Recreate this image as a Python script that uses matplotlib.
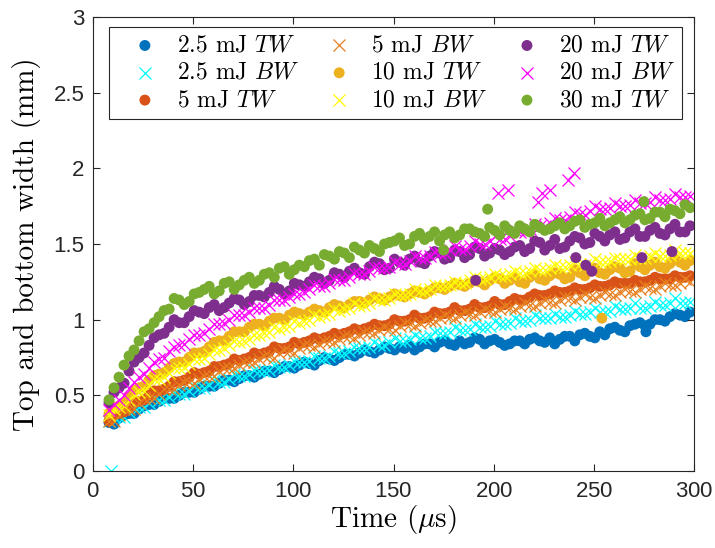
import numpy as np
import matplotlib
matplotlib.use("Agg")
import matplotlib.pyplot as plt

# two interleaved frame grids (us)
t = np.arange(8, 299, 5)
t2 = np.arange(10.5, 299, 5)

# widths (mm): first grid
w25_tw = [0.32, 0.35, 0.38, 0.41, 0.44, 0.46, 0.48, 0.50, 0.52, 0.54,
          0.56, 0.58, 0.60, 0.61, 0.63, 0.64, 0.66, 0.67, 0.69, 0.70,
          0.71, 0.73, 0.74, 0.75, 0.77, 0.78, 0.79, 0.80, 0.81, 0.82,
          0.83, 0.82, 0.84, 0.85, 0.84, 0.86, 0.85, 0.87, 0.86, 0.85,
          0.84, 0.86, 0.87, 0.86, 0.88, 0.87, 0.89, 0.90, 0.89, 0.92,
          0.94, 0.93, 0.96, 0.98, 0.97, 1.00, 1.02, 1.03, 1.05]
w25_bw = [0.33, 0.36, 0.39, 0.42, 0.45, 0.47, 0.49, 0.51, 0.53, 0.55,
          0.57, 0.59, 0.61, 0.63, 0.64, 0.66, 0.67, 0.69, 0.70, 0.72,
          0.73, 0.75, 0.76, 0.78, 0.79, 0.81, 0.82, 0.83, 0.85, 0.86,
          0.87, 0.88, 0.89, 0.91, 0.92, 0.93, 0.94, 0.95, 0.96, 0.97,
          0.98, 0.99, 1.00, 1.01, 1.01, 1.02, 1.03, 1.04, 1.05, 1.05,
          1.06, 1.07, 1.08, 1.08, 1.09, 1.10, 1.11, 1.11, 1.12]
w5_tw = [0.33, 0.38, 0.42, 0.46, 0.50, 0.53, 0.56, 0.59, 0.62, 0.64,
         0.66, 0.69, 0.71, 0.73, 0.75, 0.77, 0.79, 0.81, 0.82, 0.84,
         0.86, 0.87, 0.89, 0.90, 0.92, 0.93, 0.95, 0.96, 0.97, 0.99,
         1.00, 1.01, 1.02, 1.04, 1.05, 1.06, 1.07, 1.08, 1.09, 1.10,
         1.12, 1.13, 1.15, 1.16, 1.17, 1.18, 1.19, 1.20, 1.21, 1.22,
         1.23, 1.24, 1.24, 1.25, 1.26, 1.27, 1.27, 1.28, 1.29]
w5_bw = [0.33, 0.37, 0.41, 0.45, 0.48, 0.51, 0.54, 0.57, 0.59, 0.61,
         0.63, 0.66, 0.68, 0.70, 0.72, 0.74, 0.76, 0.78, 0.79, 0.81,
         0.83, 0.84, 0.86, 0.87, 0.89, 0.90, 0.92, 0.93, 0.94, 0.96,
         0.97, 0.98, 0.99, 1.01, 1.02, 1.03, 1.04, 1.05, 1.06, 1.07,
         1.08, 1.09, 1.10, 1.11, 1.12, 1.13, 1.14, 1.15, 1.15, 1.16,
         1.17, 1.18, 1.19, 1.20, 1.21, 1.22, 1.23, 1.24, 1.25]
w10_tw = [0.38, 0.43, 0.49, 0.55, 0.60, 0.64, 0.68, 0.72, 0.75, 0.78,
          0.82, 0.86, 0.89, 0.92, 0.95, 0.97, 0.99, 1.01, 1.03, 1.04,
          1.05, 1.06, 1.08, 1.09, 1.10, 1.12, 1.13, 1.14, 1.15, 1.16,
          1.17, 1.18, 1.19, 1.21, 1.22, 1.23, 1.24, 1.25, 1.26, 1.27,
          1.26, 1.25, 1.28, 1.27, 1.29, 1.30, 1.28, 1.31, 1.32, 1.31,
          1.33, 1.34, 1.32, 1.35, 1.36, 1.35, 1.37, 1.38, 1.39]
w10_bw = [0.37, 0.42, 0.47, 0.52, 0.57, 0.61, 0.65, 0.68, 0.71, 0.74,
          0.77, 0.80, 0.83, 0.85, 0.87, 0.90, 0.92, 0.94, 0.96, 0.98,
          1.00, 1.02, 1.04, 1.06, 1.08, 1.09, 1.11, 1.13, 1.14, 1.16,
          1.17, 1.19, 1.20, 1.22, 1.23, 1.24, 1.26, 1.27, 1.28, 1.29,
          1.30, 1.31, 1.32, 1.33, 1.34, 1.35, 1.36, 1.37, 1.37, 1.38,
          1.39, 1.40, 1.40, 1.41, 1.42, 1.42, 1.43, 1.44, 1.44]
w20_tw = [0.45, 0.55, 0.66, 0.75, 0.83, 0.90, 0.95, 0.98, 1.02, 1.05,
          1.08, 1.06, 1.11, 1.13, 1.12, 1.16, 1.18, 1.20, 1.19, 1.23,
          1.25, 1.27, 1.26, 1.30, 1.32, 1.31, 1.35, 1.37, 1.34, 1.38,
          1.40, 1.38, 1.42, 1.44, 1.41, 1.45, 1.43, 1.47, 1.44, 1.46,
          1.45, 1.49, 1.47, 1.51, 1.49, 1.47, 1.52, 1.54, 1.51, 1.55,
          1.56, 1.53, 1.58, 1.55, 1.59, 1.57, 1.60, 1.58, 1.62]
w20_bw = [0.40, 0.47, 0.55, 0.62, 0.68, 0.74, 0.79, 0.83, 0.87, 0.90,
          0.94, 0.97, 1.00, 1.03, 1.05, 1.08, 1.10, 1.13, 1.15, 1.17,
          1.20, 1.22, 1.24, 1.26, 1.28, 1.30, 1.32, 1.34, 1.35, 1.37,
          1.39, 1.41, 1.42, 1.44, 1.46, 1.47, 1.49, 1.50, 1.52, 1.53,
          1.55, 1.58, 1.60, 1.62, 1.64, 1.66, 1.68, 1.70, 1.72, 1.73,
          1.74, 1.75, 1.76, 1.77, 1.78, 1.79, 1.80, 1.81, 1.82]
w30_tw = [0.47, 0.62, 0.76, 0.86, 0.94, 1.02, 1.07, 1.13, 1.12, 1.18,
          1.22, 1.19, 1.25, 1.23, 1.28, 1.26, 1.31, 1.34, 1.30, 1.36,
          1.39, 1.36, 1.42, 1.45, 1.41, 1.46, 1.49, 1.45, 1.51, 1.54,
          1.50, 1.57, 1.55, 1.52, 1.58, 1.56, 1.60, 1.57, 1.61, 1.56,
          1.59, 1.62, 1.58, 1.61, 1.60, 1.64, 1.62, 1.66, 1.63, 1.67,
          1.64, 1.68, 1.66, 1.70, 1.67, 1.71, 1.73, 1.70, 1.74]

# second grid
w25_tw2 = [0.31, 0.37, 0.38, 0.43, 0.44, 0.48, 0.48, 0.52, 0.52, 0.56,
           0.56, 0.60, 0.59, 0.63, 0.62, 0.66, 0.65, 0.69, 0.68, 0.72,
           0.70, 0.75, 0.73, 0.77, 0.76, 0.80, 0.78, 0.82, 0.80, 0.81,
           0.80, 0.84, 0.82, 0.86, 0.83, 0.84, 0.88, 0.84, 0.87, 0.83,
           0.86, 0.84, 0.88, 0.85, 0.84, 0.89, 0.86, 0.91, 0.88, 0.90,
           0.95, 0.92, 0.97, 0.96, 1.00, 0.99, 1.04, 1.02]
w25_bw2 = [0.36, 0.36, 0.42, 0.42, 0.48, 0.47, 0.52, 0.51, 0.56, 0.55,
           0.60, 0.59, 0.64, 0.63, 0.67, 0.66, 0.70, 0.69, 0.73, 0.72,
           0.76, 0.75, 0.79, 0.78, 0.82, 0.81, 0.85, 0.83, 0.88, 0.86,
           0.90, 0.88, 0.92, 0.91, 0.95, 0.93, 0.97, 0.95, 0.99, 0.97,
           1.01, 0.99, 1.03, 1.01, 1.04, 1.02, 1.06, 1.04, 1.08, 1.05,
           1.09, 1.07, 1.11, 1.08, 1.12, 1.10, 1.14, 1.11]
w5_tw2 = [0.37, 0.39, 0.46, 0.47, 0.53, 0.54, 0.59, 0.60, 0.65, 0.65,
          0.69, 0.70, 0.74, 0.74, 0.78, 0.78, 0.82, 0.81, 0.85, 0.85,
          0.88, 0.88, 0.91, 0.91, 0.94, 0.94, 0.97, 0.96, 1.00, 0.99,
          1.03, 1.01, 1.05, 1.04, 1.08, 1.06, 1.10, 1.08, 1.12, 1.10,
          1.14, 1.13, 1.17, 1.16, 1.19, 1.18, 1.21, 1.20, 1.23, 1.22,
          1.25, 1.24, 1.26, 1.25, 1.28, 1.27, 1.29, 1.28]
w5_bw2 = [0.33, 0.41, 0.41, 0.48, 0.48, 0.54, 0.54, 0.59, 0.58, 0.63,
          0.63, 0.68, 0.68, 0.72, 0.72, 0.76, 0.75, 0.80, 0.78, 0.83,
          0.82, 0.86, 0.85, 0.89, 0.88, 0.92, 0.91, 0.95, 0.93, 0.98,
          0.96, 1.00, 0.99, 1.03, 1.01, 1.05, 1.03, 1.07, 1.05, 1.09,
          1.07, 1.11, 1.09, 1.13, 1.11, 1.15, 1.13, 1.17, 1.14, 1.18,
          1.16, 1.20, 1.18, 1.22, 1.20, 1.24, 1.23, 1.27]
w10_tw2 = [0.41, 0.45, 0.53, 0.56, 0.63, 0.65, 0.71, 0.72, 0.78, 0.79,
           0.85, 0.86, 0.92, 0.92, 0.97, 0.96, 1.01, 1.00, 1.05, 1.03,
           1.07, 1.05, 1.10, 1.08, 1.12, 1.11, 1.15, 1.13, 1.17, 1.15,
           1.19, 1.17, 1.21, 1.20, 1.24, 1.22, 1.26, 1.23, 1.28, 1.24,
           1.28, 1.24, 1.30, 1.26, 1.31, 1.27, 1.33, 1.29, 1.34, 1.30,
           1.35, 1.31, 1.37, 1.33, 1.38, 1.34, 1.40, 1.36]
w10_bw2 = [0.41, 0.43, 0.51, 0.53, 0.61, 0.62, 0.68, 0.69, 0.74, 0.75,
           0.80, 0.81, 0.86, 0.86, 0.90, 0.91, 0.95, 0.95, 0.99, 0.99,
           1.03, 1.03, 1.07, 1.07, 1.11, 1.10, 1.14, 1.13, 1.17, 1.16,
           1.20, 1.19, 1.23, 1.22, 1.25, 1.24, 1.28, 1.27, 1.30, 1.29,
           1.32, 1.31, 1.34, 1.33, 1.36, 1.35, 1.38, 1.36, 1.40, 1.38,
           1.41, 1.40, 1.43, 1.41, 1.44, 1.42, 1.46, 1.44]
w20_tw2 = [0.52, 0.58, 0.72, 0.78, 0.88, 0.91, 1.00, 0.98, 1.06, 1.04,
           1.10, 1.08, 1.14, 1.10, 1.16, 1.15, 1.22, 1.17, 1.24, 1.22,
           1.28, 1.24, 1.31, 1.28, 1.34, 1.30, 1.38, 1.33, 1.40, 1.36,
           1.42, 1.37, 1.45, 1.40, 1.46, 1.41, 1.48, 1.42, 1.47, 1.43,
           1.48, 1.45, 1.52, 1.46, 1.53, 1.48, 1.55, 1.50, 1.57, 1.52,
           1.58, 1.54, 1.60, 1.55, 1.61, 1.56, 1.63, 1.58]
w20_bw2 = [0.44, 0.50, 0.59, 0.64, 0.72, 0.75, 0.82, 0.84, 0.90, 0.91,
           0.97, 0.98, 1.03, 1.03, 1.08, 1.08, 1.13, 1.13, 1.17, 1.18,
           1.23, 1.22, 1.27, 1.26, 1.31, 1.30, 1.35, 1.34, 1.38, 1.37,
           1.42, 1.41, 1.45, 1.44, 1.49, 1.47, 1.52, 1.50, 1.55, 1.53,
           1.59, 1.58, 1.63, 1.62, 1.67, 1.66, 1.71, 1.69, 1.75, 1.73,
           1.77, 1.75, 1.79, 1.77, 1.81, 1.79, 1.83, 1.81]
w30_tw2 = [0.55, 0.70, 0.80, 0.92, 0.98, 1.06, 1.14, 1.10, 1.17, 1.20,
           1.17, 1.24, 1.20, 1.26, 1.24, 1.30, 1.28, 1.35, 1.33, 1.35,
           1.40, 1.43, 1.40, 1.44, 1.48, 1.44, 1.47, 1.50, 1.52, 1.49,
           1.55, 1.53, 1.58, 1.56, 1.54, 1.60, 1.58, 1.55, 1.59, 1.62,
           1.57, 1.60, 1.63, 1.59, 1.62, 1.60, 1.65, 1.61, 1.64, 1.62,
           1.66, 1.64, 1.69, 1.66, 1.71, 1.68, 1.72, 1.76]

# isolated frames off the main trend
out25_tw_t, out25_tw_w = [276], [0.92]
out25_bw_t, out25_bw_w = [9], [0.0]
out10_tw_t, out10_tw_w = [254], [1.01]
out20_tw_t = [191, 241, 246, 249, 274, 289]
out20_tw_w = [1.26, 1.41, 1.36, 1.32, 1.41, 1.45]
out20_bw_t = [202, 207, 222, 224, 228, 237, 240]
out20_bw_w = [1.84, 1.86, 1.78, 1.84, 1.86, 1.92, 1.97]
out30_tw_t = [175, 197, 275]
out30_tw_w = [1.46, 1.73, 1.78]

labels = ['2.5 mJ $\\mathit{TW}$', '2.5 mJ $\\mathit{BW}$', '5 mJ $\\mathit{TW}$',
          '5 mJ $\\mathit{BW}$', '10 mJ $\\mathit{TW}$', '10 mJ $\\mathit{BW}$',
          '20 mJ $\\mathit{TW}$', '20 mJ $\\mathit{BW}$', '30 mJ $\\mathit{TW}$']

plt.rcParams['mathtext.fontset'] = 'cm'
plt.rcParams['axes.formatter.use_mathtext'] = True

fig = plt.figure(figsize=(7.15, 5.48), dpi=100)
ax = fig.add_axes([93/715, 77/548, 601/715, 454/548])

series = [
    (w25_tw, w25_tw2, out25_tw_t, out25_tw_w, 'o', '#0072BD'),
    (w25_bw, w25_bw2, out25_bw_t, out25_bw_w, 'x', '#00FFFF'),
    (w5_tw, w5_tw2, [], [], 'o', '#D95319'),
    (w5_bw, w5_bw2, [], [], 'x', '#E8801E'),
    (w10_tw, w10_tw2, out10_tw_t, out10_tw_w, 'o', '#EDB120'),
    (w10_bw, w10_bw2, [], [], 'x', '#FFFF00'),
    (w20_tw, w20_tw2, out20_tw_t, out20_tw_w, 'o', '#7E2F8E'),
    (w20_bw, w20_bw2, out20_bw_t, out20_bw_w, 'x', '#FF00FF'),
    (w30_tw, w30_tw2, out30_tw_t, out30_tw_w, 'o', '#77AC30'),
]

for (w1, w2, ot, ow, m, c), lab in zip(series, labels):
    x = np.concatenate([t, t2, ot])
    y = np.concatenate([w1, w2, ow])
    if m == 'o':
        ax.scatter(x, y, s=62, marker='o', color=c, edgecolors='none', label=lab)
    else:
        ax.scatter(x, y, s=75, marker='x', color=c, linewidths=0.9, label=lab)

ax.set_xlim(0, 300)
ax.set_ylim(0, 3)
ax.set_xticks(np.arange(0, 301, 50))
ax.set_yticks(np.arange(0, 3.01, 0.5))
ax.set_yticklabels(['0', '0.5', '1', '1.5', '2', '2.5', '3'])
for s in ax.spines.values():
    s.set_color('#262626')
    s.set_linewidth(0.8)
ax.tick_params(direction='in', length=5, width=0.8, colors='#262626',
               top=True, right=True, labelsize=16)
ax.tick_params(axis='x', pad=7)
ax.tick_params(axis='y', pad=6)
for lab in ax.get_xticklabels() + ax.get_yticklabels():
    lab.set_family('Liberation Sans')

ax.set_xlabel('Time ($\\mu$s)', fontsize=21, family='cmr10', labelpad=1)
ax.set_ylabel('Top and bottom width (mm)', fontsize=21, family='cmr10', labelpad=9)

leg = ax.legend(ncol=3, loc='upper left', bbox_to_anchor=(0.0266, 0.978),
                borderaxespad=0, prop={'family': 'cmr10', 'size': 17},
                frameon=True, fancybox=False, edgecolor='#262626', framealpha=1,
                handlelength=2.4, handletextpad=0.15, columnspacing=0.5,
                labelspacing=0.22, borderpad=0.32, scatterpoints=1)
leg.get_frame().set_linewidth(0.8)

fig.savefig('out.png', dpi=100)
